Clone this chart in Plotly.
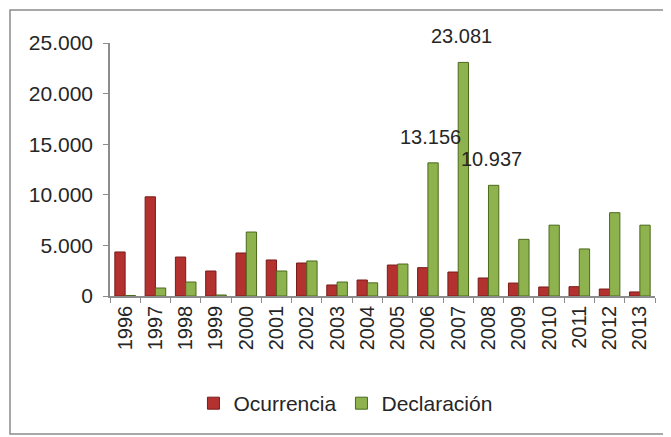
import plotly.graph_objects as go

years = ["1996", "1997", "1998", "1999", "2000", "2001", "2002", "2003", "2004",
         "2005", "2006", "2007", "2008", "2009", "2010", "2011", "2012", "2013"]
ocurrencia = [4350, 9800, 3850, 2470, 4250, 3560, 3260, 1090, 1580,
              3060, 2800, 2370, 1780, 1280, 890, 920, 690, 400]
declaracion = [50, 790, 1380, 100, 6320, 2470, 3460, 1380, 1300,
               3160, 13156, 23081, 10937, 5600, 7000, 4650, 8230, 7000]
labeled_years = ["2006", "2007", "2008"]
y_ticks = [0, 5000, 10000, 15000, 20000, 25000]

FONT = "Liberation Sans, Arial, sans-serif"
TXT = "#262626"

fig = go.Figure()
fig.add_trace(go.Bar(
    x=years, y=ocurrencia, name="Ocurrencia",
    marker=dict(color="#B3312E", line=dict(color="#7A1C1A", width=1)),
))
fig.add_trace(go.Bar(
    x=years, y=declaracion, name="Declaración",
    marker=dict(color="#8DB24E", line=dict(color="#4B6A1C", width=1)),
))

def fmt(v):
    return f"{v:,}".replace(",", ".")

for i, (yr, v) in enumerate(zip(years, declaracion)):
    if yr in labeled_years:
        # category axis: use category index as position
        fig.add_annotation(x=i, y=v, text=fmt(v), showarrow=False,
                           xshift=3, yshift=13, yanchor="bottom",
                           font=dict(family=FONT, size=20, color=TXT))

# outer frame
fig.add_shape(type="rect", xref="paper", yref="paper",
              x0=-0.1835, x1=1.022, y0=-0.545, y1=1.13,
              line=dict(color="#8C8C8C", width=1.5), layer="below")

fig.update_layout(
    width=671, height=437,
    margin=dict(l=102, r=24, t=35, b=149),
    paper_bgcolor="white", plot_bgcolor="white",
    barmode="group", bargap=0.32, bargroupgap=0.0,
    separators=",.",
    font=dict(family=FONT, size=20, color=TXT),
    showlegend=True,
    legend=dict(orientation="h", x=0.432, xanchor="center", y=-0.425, yanchor="middle",
                font=dict(family=FONT, size=21, color=TXT),
                itemwidth=30, tracegroupgap=0, bgcolor="rgba(0,0,0,0)"),
    xaxis=dict(type="category", categoryorder="array", categoryarray=years,
               range=[-0.5, len(years) - 0.5],
               showline=True, linecolor="#8C8C8C", linewidth=1.5,
               ticks="outside", tickson="boundaries", ticklen=5, tickcolor="#8C8C8C",
               tickangle=-90, tickfont=dict(family=FONT, size=20, color=TXT),
               showgrid=False, zeroline=False),
    yaxis=dict(range=[0, 25000], tickvals=y_ticks, tickformat=",d",
               showline=True, linecolor="#8C8C8C", linewidth=1.5,
               ticks="outside", ticklen=5, tickcolor="#8C8C8C",
               ticklabelstandoff=6,
               tickfont=dict(family=FONT, size=21, color=TXT),
               showgrid=False, zeroline=False),
)

fig.write_html("out.html")
